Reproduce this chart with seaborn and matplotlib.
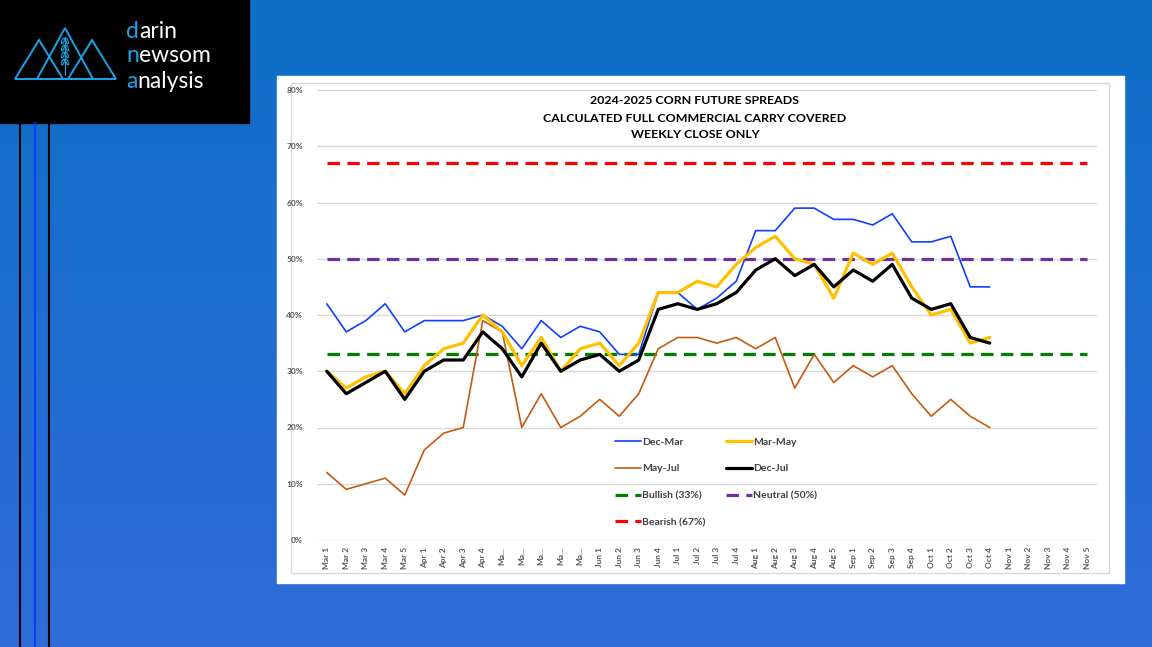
import numpy as np
import pandas as pd
import matplotlib.pyplot as plt
import seaborn as sns
from matplotlib.patches import Rectangle, Polygon, Ellipse
from matplotlib.lines import Line2D

# week labels on the category axis
weeks = ["Mar 1", "Mar 2", "Mar 3", "Mar 4", "Mar 5",
         "Apr 1", "Apr 2", "Apr 3", "Apr 4",
         "Ma...", "Ma...", "Ma...", "Ma...", "Ma...",
         "Jun 1", "Jun 2", "Jun 3", "Jun 4",
         "Jul 1", "Jul 2", "Jul 3", "Jul 4",
         "Aug 1", "Aug 2", "Aug 3", "Aug 4", "Aug 5",
         "Sep 1", "Sep 2", "Sep 3", "Sep 4",
         "Oct 1", "Oct 2", "Oct 3", "Oct 4",
         "Nov 1", "Nov 2", "Nov 3", "Nov 4", "Nov 5"]

# percent of full commercial carry covered, weekly close
dec_mar = [42, 37, 39, 42, 37, 39, 39, 39, 40, 38, 34, 39, 36, 38, 37, 33, 33, 44,
           44, 41, 43, 46, 55, 55, 59, 59, 57, 57, 56, 58, 53, 53, 54, 45, 45]
mar_may = [30, 27, 29, 30, 26, 31, 34, 35, 40, 37, 31, 36, 30, 34, 35, 31, 35, 44,
           44, 46, 45, 49, 52, 54, 50, 49, 43, 51, 49, 51, 45, 40, 41, 35, 36]
may_jul = [12, 9, 10, 11, 8, 16, 19, 20, 39, 37, 20, 26, 20, 22, 25, 22, 26, 34,
           36, 36, 35, 36, 34, 36, 27, 33, 28, 31, 29, 31, 26, 22, 25, 22, 20]
dec_jul = [30, 26, 28, 30, 25, 30, 32, 32, 37, 34, 29, 35, 30, 32, 33, 30, 32, 41,
           42, 41, 42, 44, 48, 50, 47, 49, 45, 48, 46, 49, 43, 41, 42, 36, 35]

bullish = 33
neutral = 50
bearish = 67

W, H = 1152, 647
fig = plt.figure(figsize=(W / 100, H / 100), dpi=100)
sns.set_style("white")
plt.rcParams['font.family'] = ['Lato', 'DejaVu Sans']

# slide background
bg = fig.add_axes([0, 0, 1, 1])
top = np.array([0x0E, 0x6F, 0xC6]) / 255
bot = np.array([0x2F, 0x6C, 0xD9]) / 255
grad = np.linspace(0, 1, 256)[:, None, None] * (bot - top) + top
bg.imshow(np.repeat(grad, 2, axis=1), extent=[0, W, H, 0], aspect='auto', zorder=0)
bg.set_xlim(0, W)
bg.set_ylim(H, 0)
bg.axis('off')

# logo block
cyan = '#1AA3E8'
bg.add_patch(Rectangle((0, 0), 249, 123, color='black', zorder=1))
for x0, xa, x1, ya in [(15, 39, 63, 40), (37, 65, 93, 28), (68, 92, 116, 40)]:
    bg.add_patch(Polygon([(x0, 79), (xa, ya), (x1, 79)],
                         closed=True, fill=False, edgecolor=cyan, lw=1.4, zorder=2))
bg.plot([65, 65], [37, 75], color=cyan, lw=0.8, zorder=2)
for yy in [41, 48, 55, 62]:
    bg.add_patch(Ellipse((63, yy), 2.2, 6, angle=20, fill=False, edgecolor=cyan, lw=0.8, zorder=2))
    bg.add_patch(Ellipse((67, yy), 2.2, 6, angle=-20, fill=False, edgecolor=cyan, lw=0.8, zorder=2))
fig.canvas.draw()
rend = fig.canvas.get_renderer()
for yy, first, rest in [(31, 'd', 'arin'), (56, 'n', 'ewsom'), (81, 'a', 'nalysis')]:
    t = bg.text(126, yy, first, color=cyan, fontsize=16.5,
                va='center', ha='left', zorder=3)
    ext = t.get_window_extent(renderer=rend)
    bg.text(126 + ext.width, yy, rest, color='white', fontsize=16.5,
            va='center', ha='left', zorder=3)

# side stripes
bg.plot([20, 20], [123, H], color='black', lw=1.5, zorder=1)
bg.plot([35, 35], [123, H], color='#0A3CFF', lw=1.5, zorder=1)
bg.plot([49, 49], [123, H], color='black', lw=1.5, zorder=1)

# chart card
bg.add_patch(Rectangle((277, 76), 847, 507, color='white', zorder=1))
bg.add_patch(Rectangle((291, 83), 818, 490, fill=False, edgecolor='#D9D9D9', lw=1, zorder=2))

for yy, txt in [(100, '2024-2025 CORN FUTURE SPREADS'),
                (118, 'CALCULATED FULL COMMERCIAL CARRY COVERED'),
                (135, 'WEEKLY CLOSE ONLY')]:
    bg.text(695, yy, txt, fontsize=8.9, fontweight='bold', ha='center', va='center',
            color='black', zorder=5)

# plot area
ax = fig.add_axes([317 / W, 1 - 540 / H, 780 / W, 450 / H])
ax.patch.set_alpha(0)

n = len(dec_mar)
df = pd.DataFrame({'week': np.arange(n), 'Dec-Mar': dec_mar, 'Mar-May': mar_may,
                   'May-Jul': may_jul, 'Dec-Jul': dec_jul})
allx = np.arange(len(weeks))
ref = pd.DataFrame({'week': allx,
                    'Bullish (33%)': [bullish] * len(weeks),
                    'Neutral (50%)': [neutral] * len(weeks),
                    'Bearish (67%)': [bearish] * len(weeks)})

dash = (3.9, 2.3)
for col, c in [('Bearish (67%)', '#FF0000'), ('Neutral (50%)', '#7030A0'), ('Bullish (33%)', '#008000')]:
    sns.lineplot(data=ref, x='week', y=col, color=c, lw=2.3, ax=ax)
    ax.lines[-1].set_dashes(dash)
sns.lineplot(data=df, x='week', y='May-Jul', color='#C55A11', lw=1.2, ax=ax)
sns.lineplot(data=df, x='week', y='Dec-Mar', color='#1040FF', lw=1.2, ax=ax)
sns.lineplot(data=df, x='week', y='Mar-May', color='#FFC000', lw=2.3, ax=ax)
sns.lineplot(data=df, x='week', y='Dec-Jul', color='black', lw=2.3, ax=ax)

ax.set_xlim(-0.5, len(weeks) - 0.5)
ax.set_ylim(0, 80)
ax.set_yticks(range(0, 81, 10))
ax.set_yticklabels([f'{v}%' for v in range(0, 81, 10)])
ax.set_xticks(allx)
ax.set_xticklabels(weeks, rotation=90)
ax.tick_params(axis='both', length=0, labelsize=6, colors='#595959')
ax.tick_params(axis='y', pad=10)
ax.tick_params(axis='x', pad=5)
for lab in ax.get_xticklabels() + ax.get_yticklabels():
    lab.set_fontweight('bold')
ax.grid(axis='y', color='#D9D9D9', lw=1)
ax.set_axisbelow(True)
for s in ax.spines.values():
    s.set_visible(False)
ax.set_xlabel('')
ax.set_ylabel('')


def h(c, lw, dashed=False):
    ln = Line2D([], [], color=c, lw=lw)
    if dashed:
        ln.set_dashes(dash)
    return ln


handles = [h('#1040FF', 1.2), h('#C55A11', 1.2), h('#008000', 2.3, True), h('#FF0000', 2.3, True),
           h('#FFC000', 2.3), h('black', 2.3), h('#7030A0', 2.3, True)]
labels = ['Dec-Mar', 'May-Jul', 'Bullish (33%)', 'Bearish (67%)', 'Mar-May', 'Dec-Jul', 'Neutral (50%)']
leg = ax.legend(handles, labels, ncol=2, frameon=False, loc='upper left',
                bbox_to_anchor=(606 / W, 1 - 428 / H), bbox_transform=fig.transFigure,
                fontsize=7.5, handlelength=2.5, handletextpad=0.05, labelspacing=1.68,
                columnspacing=2.0)
for t in leg.get_texts():
    t.set_color('#404040')
    t.set_fontweight('bold')

fig.savefig('out.png', dpi=100)
